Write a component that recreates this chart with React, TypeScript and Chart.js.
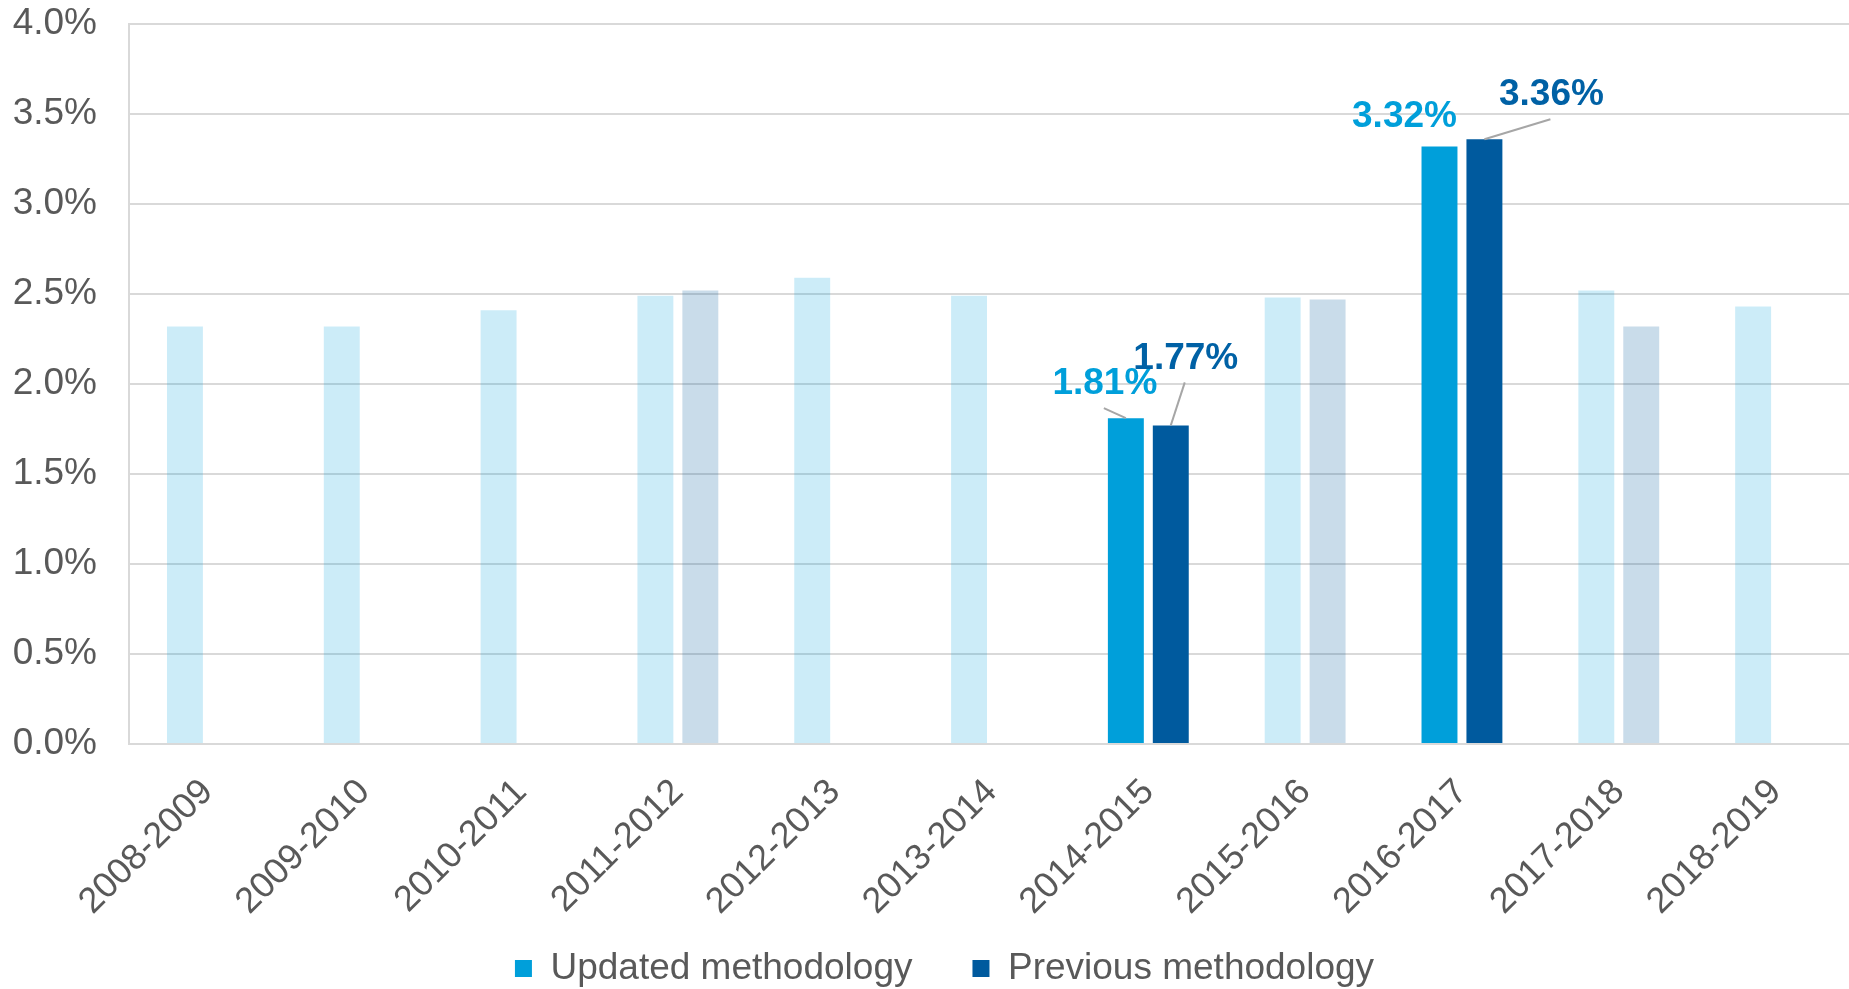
import React, { useEffect, useRef } from "react";
import { Chart, registerables } from "chart.js";

Chart.register(...registerables);

const categories = [
  "2008-2009", "2009-2010", "2010-2011", "2011-2012", "2012-2013", "2013-2014",
  "2014-2015", "2015-2016", "2016-2017", "2017-2018", "2018-2019",
];
const updatedValues = [2.32, 2.32, 2.41, 2.49, 2.59, 2.49, 1.81, 2.48, 3.32, 2.52, 2.43];
const previousValues = [null, null, null, 2.52, null, null, 1.77, 2.47, 3.36, 2.32, null];
const highlightedCategories = ["2014-2015", "2016-2017"];
const seriesNames = ["Updated methodology", "Previous methodology"];
const yTicks = [0, 0.5, 1, 1.5, 2, 2.5, 3, 3.5, 4];

const FONT = "'Liberation Sans', Arial, sans-serif";
const TEXT = "#595959";
const GRID = "#D9D9D9";
const SOLID = ["#009FDA", "#005A9E"];
const FADED = ["rgba(0,159,218,0.2)", "rgba(0,90,158,0.21)"];
const LABEL_COLORS = ["#009FDA", "#0061A5"];

// label placement relative to bar top centre (dataset index -> category)
const labelPlacement: Record<number, Record<string, { dx: number; dy: number; leader: boolean }>> = {
  0: {
    "2014-2015": { dx: -21, dy: -34, leader: true },
    "2016-2017": { dx: -35, dy: -30, leader: false },
  },
  1: {
    "2014-2015": { dx: 15, dy: -67, leader: true },
    "2016-2017": { dx: 67, dy: -44, leader: true },
  },
};

const isHighlighted = (i: number) => highlightedCategories.includes(categories[i]);

const colorFor = (ds: number) => (c: any) =>
  c.type === "data" && !isHighlighted(c.dataIndex) ? FADED[ds] : SOLID[ds];

const layoutTweaks = {
  id: "layoutTweaks",
  afterLayout(chart: any) {
    // plot runs slightly past the right edge of the canvas, rotated category
    // labels may run below the axis box, and the legend sits a bit right of centre
    const x = chart.scales.x;
    if (x) {
      x.right += 5;
      x.width += 5;
      x.configure();
      x.bottom = chart.height;
    }
    if (chart.legend) {
      chart.legend.left += 20;
      chart.legend.right += 20;
    }
  },
};

const valueLabelPlugin = {
  id: "valueLabels",
  afterDatasetsDraw(chart: any) {
    const ctx = chart.ctx;
    ctx.save();
    chart.data.datasets.forEach((ds: any, di: number) => {
      const meta = chart.getDatasetMeta(di);
      meta.data.forEach((el: any, i: number) => {
        const v = ds.data[i];
        if (v == null || !isHighlighted(i)) return;
        const place = labelPlacement[di]?.[categories[i]];
        if (!place) return;
        const tx = el.x + place.dx;
        const ty = el.y + place.dy;
        if (place.leader) {
          ctx.strokeStyle = "#A6A6A6";
          ctx.lineWidth = 2;
          ctx.beginPath();
          ctx.moveTo(tx - 1, ty + 24);
          ctx.lineTo(el.x, el.y);
          ctx.stroke();
        }
        ctx.fillStyle = LABEL_COLORS[di];
        ctx.font = `bold 37px ${FONT}`;
        ctx.textAlign = "center";
        ctx.textBaseline = "middle";
        ctx.fillText(`${v.toFixed(2)}%`, tx, ty);
      });
    });
    ctx.restore();
  },
};

export default function App() {
  const ref = useRef<HTMLCanvasElement | null>(null);
  useEffect(() => {
    document.body.style.margin = "0";
    document.body.style.overflow = "hidden";
    if (!ref.current) return;
    const defaultLabels = Chart.defaults.plugins.legend.labels.generateLabels;
    const chart = new Chart(ref.current, {
      type: "bar",
      data: {
        labels: categories,
        datasets: [
          {
            label: seriesNames[0],
            data: updatedValues,
            backgroundColor: colorFor(0),
            borderWidth: 0,
          },
          {
            label: seriesNames[1],
            data: previousValues,
            backgroundColor: colorFor(1),
            borderWidth: 0,
          },
        ],
      },
      options: {
        responsive: false,
        animation: false,
        devicePixelRatio: 1,
        categoryPercentage: 0.573,
        barPercentage: 0.8,
        layout: { padding: { left: 0, right: 0, top: 24, bottom: -8 } },
        plugins: {
          tooltip: { enabled: false },
          legend: {
            position: "bottom",
            labels: {
              boxWidth: 17,
              boxHeight: 17,
              padding: 60,
              color: TEXT,
              font: { family: FONT, size: 37 },
              generateLabels: (ch: any) =>
                defaultLabels(ch).map((item: any) => ({
                  ...item,
                  fillStyle: SOLID[item.datasetIndex],
                  strokeStyle: SOLID[item.datasetIndex],
                  lineWidth: 0,
                })),
            },
          },
        },
        scales: {
          x: {
            grid: { display: false },
            border: { display: true, color: GRID, width: 2 },
            ticks: {
              autoSkip: false,
              maxRotation: 45,
              minRotation: 45,
              padding: 19,
              color: TEXT,
              font: { family: FONT, size: 36 },
            },
            afterFit: (s: any) => {
              s.height = 146;
            },
          },
          y: {
            min: 0,
            max: 4,
            afterBuildTicks: (s: any) => {
              s.ticks = yTicks.map((v) => ({ value: v }));
            },
            grid: { color: GRID, lineWidth: 2, drawTicks: false },
            border: { display: true, color: GRID, width: 2 },
            ticks: {
              padding: 32,
              color: TEXT,
              font: { family: FONT, size: 37 },
              callback: (v: any) => `${Number(v).toFixed(1)}%`,
            },
            afterFit: (s: any) => {
              s.width = 129;
              s.paddingTop = 0;
              s.paddingBottom = 0;
            },
          },
        },
      },
      plugins: [layoutTweaks, valueLabelPlugin],
    });
    return () => chart.destroy();
  }, []);
  return (
    <div style={{ width: 1849, height: 989, position: "relative", background: "#fff" }}>
      <canvas ref={ref} width={1849} height={989} style={{ display: "block" }} />
    </div>
  );
}
